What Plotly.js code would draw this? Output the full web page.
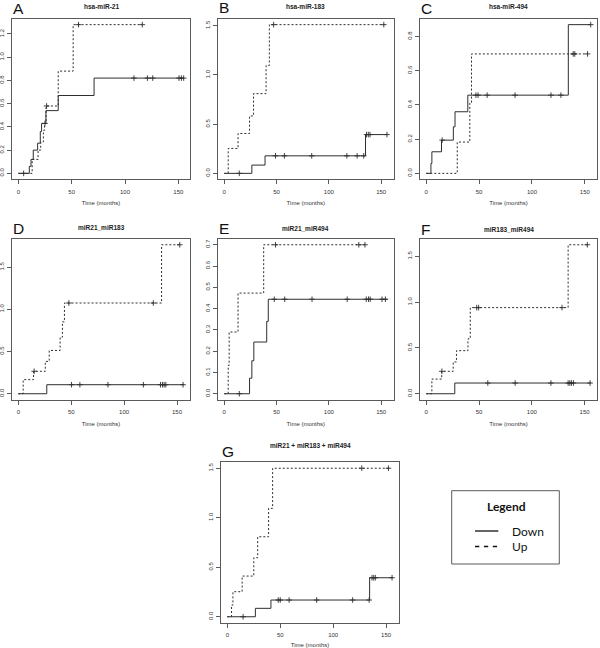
<!DOCTYPE html>
<html><head><meta charset="utf-8">
<script src="https://cdn.plot.ly/plotly-3.0.1.min.js"></script>
<style>html,body{margin:0;padding:0;background:#fff}#chart{width:600px;height:648px}</style>
</head><body><div id="chart"></div>
<script>
// ---------- DATA ----------
const panelLetters = ['A','B','C','D','E','F','G'];
const panelTitles = ['hsa-miR-21','hsa-miR-183','hsa-miR-494','miR21_miR183','miR21_miR494','miR183_miR494','miR21 + miR183 + miR494'];
const xTickVals = [0, 50, 100, 150];
const xAxisTitle = 'Time (months)';
const legendTitle = 'Legend';
const seriesNames = ['Down', 'Up'];

// A: hsa-miR-21
const A_down_t = [0, 10.3, 11.9, 14.0, 18.1, 20.6, 21.8, 25.9, 37.4, 71];
const A_down_v = [0, 0.06, 0.12, 0.20, 0.26, 0.36, 0.43, 0.54, 0.67, 0.82];
const A_down_end = 155;
const A_down_cens = [5, 108.4, 121, 126, 150.6, 152.8, 155];
const A_up_t = [0, 13.0, 18.5, 21.0, 23.5, 24.6, 26.0, 37.4, 51.4];
const A_up_v = [0, 0.12, 0.20, 0.27, 0.37, 0.43, 0.58, 0.88, 1.28];
const A_up_end = 116.2;
const A_up_cens = [25, 26.5, 56.4, 116.2];

// B: hsa-miR-183
const B_down_t = [0, 26.4, 39, 135];
const B_down_v = [0, 0.084, 0.178, 0.394];
const B_down_end = 156;
const B_down_cens = [14.4, 49, 57.5, 83.6, 117.2, 127, 133.3, 136, 137.7, 139.3, 155.5];
const B_up_t = [0, 3.8, 13.2, 24.2, 28, 40, 43.1];
const B_up_v = [0, 0.253, 0.405, 0.583, 0.81, 1.096, 1.511];
const B_up_end = 153;
const B_up_cens = [47.2, 152.5];

// C: hsa-miR-494
const C_down_t = [0, 4.4, 5.3, 14.4, 25.6, 27.2, 39.3, 134.4];
const C_down_v = [0, 0.058, 0.126, 0.194, 0.272, 0.36, 0.457, 0.869];
const C_down_end = 155.6;
const C_down_cens = [15, 47, 49, 57.6, 84, 118, 127.4, 155.6];
const C_up_t = [0, 29.3, 41.2, 42.8];
const C_up_v = [0, 0.183, 0.41, 0.698];
const C_up_end = 153;
const C_up_cens = [139, 140.5, 152.6];

// D: miR21_miR183
const D_down_t = [0, 26.9];
const D_down_v = [0, 0.107];
const D_down_end = 156.3;
const D_down_cens = [50.3, 58.2, 84.7, 118.2, 134.4, 136.3, 137.8, 139.4, 155.7];
const D_up_t = [0, 4.6, 14.4, 25.5, 29.2, 39.5, 41.7, 43.6, 135.4];
const D_up_v = [0, 0.167, 0.266, 0.383, 0.513, 0.67, 0.852, 1.075, 1.765];
const D_up_end = 152.6;
const D_up_cens = [15, 47.8, 127.6, 152.6];

// E: miR21_miR494
const E_down_t = [0, 24.2, 26.4, 28.3, 40.6, 42.1];
const E_down_v = [0, 0.073, 0.155, 0.243, 0.34, 0.444];
const E_down_end = 156;
const E_down_cens = [14.4, 47.8, 57.8, 83.9, 117.5, 135.7, 137.9, 139.5, 150.8, 154];
const E_up_t = [0, 3.8, 4.7, 13.2, 37.7];
const E_up_v = [0, 0.133, 0.29, 0.473, 0.70];
const E_up_end = 134.5;
const E_up_cens = [49, 128.6, 134.5];

// F: miR183_miR494
const F_down_t = [0, 27];
const F_down_v = [0, 0.117];
const F_down_end = 155.8;
const F_down_cens = [58.3, 84.2, 118.1, 134.4, 136, 137.5, 139.4, 155.2];
const F_up_t = [0, 5.3, 14.6, 25.5, 28.6, 39.5, 41.7, 134.4];
const F_up_v = [0, 0.16, 0.245, 0.347, 0.47, 0.6, 0.94, 1.626];
const F_up_end = 152.6;
const F_up_cens = [14.8, 47.8, 49.6, 128.6, 152.6];

// G: miR21 + miR183 + miR494
const G_down_t = [0, 26.5, 41.2, 134.4];
const G_down_v = [0, 0.085, 0.169, 0.394];
const G_down_end = 156.2;
const G_down_cens = [14.9, 48.1, 50, 58.4, 84.4, 118.4, 134, 136.7, 138.3, 139.8, 155.6];
const G_up_t = [0, 4, 5.3, 14, 25, 28.7, 39, 42.8];
const G_up_v = [0, 0.118, 0.253, 0.411, 0.596, 0.808, 1.095, 1.5];
const G_up_end = 152.5;
const G_up_cens = [127, 152.2];

const yTickSteps = [0.2, 0.5, 0.2, 0.5, 0.1, 0.5, 0.5];

// ---------- LAYOUT (pixel frames of the panels) ----------
const W = 600, H = 648;
const frames = [
  [11.7, 190.3, 18.7, 179.3],
  [217.7, 394.0, 18.7, 179.3],
  [419.7, 597.3, 18.7, 179.3],
  [11.7, 190.3, 238.8, 399.7],
  [217.7, 394.0, 238.8, 399.7],
  [419.7, 597.3, 238.8, 399.7],
  [220.7, 399.3, 462.3, 622.7]
];
const titleY = [6, 6, 6, 227.5, 228.3, 229, 445];
const letterY = [8, 7.5, 8, 228, 228, 229, 451];

const px = p => p / W;
const py = p => 1 - p / H;

const series = [
  [A_down_t, A_down_v, A_down_end, A_down_cens, A_up_t, A_up_v, A_up_end, A_up_cens],
  [B_down_t, B_down_v, B_down_end, B_down_cens, B_up_t, B_up_v, B_up_end, B_up_cens],
  [C_down_t, C_down_v, C_down_end, C_down_cens, C_up_t, C_up_v, C_up_end, C_up_cens],
  [D_down_t, D_down_v, D_down_end, D_down_cens, D_up_t, D_up_v, D_up_end, D_up_cens],
  [E_down_t, E_down_v, E_down_end, E_down_cens, E_up_t, E_up_v, E_up_end, E_up_cens],
  [F_down_t, F_down_v, F_down_end, F_down_cens, F_up_t, F_up_v, F_up_end, F_up_cens],
  [G_down_t, G_down_v, G_down_end, G_down_cens, G_up_t, G_up_v, G_up_end, G_up_cens]
];

function stepAt(ts, vs, c) {
  let y = 0;
  for (let i = 0; i < ts.length; i++) if (ts[i] <= c) y = vs[i];
  return y;
}

const lineCol = '#2e2e2e';
const frameCol = '#5a5a5a';
const FONT = 'Liberation Sans, Arial, sans-serif';
const traces = [];
const layout = {
  width: W, height: H, autosize: false,
  margin: {l: 0, r: 0, t: 0, b: 0},
  paper_bgcolor: '#fff', plot_bgcolor: '#fff',
  showlegend: false,
  font: {family: FONT, color: '#222'},
  annotations: [], shapes: []
};

series.forEach((s, i) => {
  const [dt, dv, de, dc, ut, uv, ue, uc] = s;
  const n = i === 0 ? '' : String(i + 1);
  const xa = 'x' + n, ya = 'y' + n;
  const styles = [{dash: 'solid'}, {dash: '2px,2px'}];
  [[dt, dv, de, dc], [ut, uv, ue, uc]].forEach((c, k) => {
    const [t, v, e, cs] = c;
    traces.push({
      type: 'scatter', mode: 'lines', xaxis: xa, yaxis: ya,
      name: seriesNames[k],
      x: t.concat([e]), y: v.concat([v[v.length - 1]]),
      line: {shape: 'hv', color: lineCol, width: 1, dash: styles[k].dash},
      hoverinfo: 'skip'
    });
    traces.push({
      type: 'scatter', mode: 'markers', xaxis: xa, yaxis: ya,
      name: seriesNames[k] + ' (censored)',
      x: cs, y: cs.map(c0 => stepAt(t, v, c0)),
      marker: {symbol: 'cross-thin', size: 4, line: {width: 0.9, color: lineCol}, color: lineCol},
      hoverinfo: 'skip'
    });
  });
  const xmax = Math.max(de, ue);
  const ymax = Math.max(...dv, ...uv);
  const f = frames[i];
  const axCommon = {
    showline: true, mirror: true, linecolor: frameCol, linewidth: 1,
    ticks: 'outside', ticklen: 4, tickwidth: 1, tickcolor: frameCol,
    showgrid: false, zeroline: false, fixedrange: true,
    tickfont: {size: 6, family: FONT, color: '#333'}
  };
  layout['xaxis' + n] = Object.assign({}, axCommon, {
    domain: [px(f[0]), px(f[1])], anchor: ya,
    range: [-0.04 * xmax, 1.04 * xmax],
    tickmode: 'array', tickvals: xTickVals,
    ticklabelstandoff: 2,
    title: {text: xAxisTitle, font: {size: 6, family: FONT, color: '#333'}, standoff: 7}
  });
  layout['yaxis' + n] = Object.assign({}, axCommon, {
    domain: [py(f[3]), py(f[2])], anchor: xa,
    range: [-0.04 * ymax, 1.04 * ymax],
    tickmode: 'linear', tick0: 0, dtick: yTickSteps[i], tickformat: '.1f',
    tickangle: -90
  });
  layout.annotations.push({
    xref: 'paper', yref: 'paper', x: px((f[0] + f[1]) / 2), y: py(titleY[i]),
    xanchor: 'center', yanchor: 'middle', showarrow: false,
    text: panelTitles[i], font: {size: 6.5, family: FONT, weight: 'bold', color: '#222'}
  });
  layout.annotations.push({
    xref: 'paper', yref: 'paper', x: px(f[0] - 1), y: py(letterY[i]),
    xanchor: 'left', yanchor: 'middle', showarrow: false,
    text: panelLetters[i], font: {size: 15.5, family: FONT, color: '#111'}
  });
});

// Legend box
const LB = [451.7, 559.3, 490.7, 564];
layout.shapes.push({type: 'rect', xref: 'paper', yref: 'paper',
  x0: px(LB[0]), x1: px(LB[1]), y0: py(LB[3]), y1: py(LB[2]),
  line: {color: frameCol, width: 1}, fillcolor: 'rgba(0,0,0,0)'});
layout.shapes.push({type: 'line', xref: 'paper', yref: 'paper',
  x0: px(475), x1: px(498.3), y0: py(531), y1: py(531),
  line: {color: '#111', width: 1.3}});
layout.shapes.push({type: 'line', xref: 'paper', yref: 'paper',
  x0: px(475), x1: px(498.3), y0: py(546.5), y1: py(546.5),
  line: {color: '#111', width: 1.3, dash: '4.3px,4.6px'}});
layout.annotations.push({xref: 'paper', yref: 'paper', x: px(506.5), y: py(506),
  xanchor: 'center', yanchor: 'middle', showarrow: false, text: legendTitle,
  font: {size: 12, family: 'Lato, Liberation Sans, sans-serif', weight: 'bold', color: '#111'}});
layout.annotations.push({xref: 'paper', yref: 'paper', x: px(509.5), y: py(531),
  xanchor: 'left', yanchor: 'middle', showarrow: false, text: seriesNames[0],
  font: {size: 12, family: 'Lato, Liberation Sans, sans-serif', color: '#111'}});
layout.annotations.push({xref: 'paper', yref: 'paper', x: px(509.5), y: py(546.5),
  xanchor: 'left', yanchor: 'middle', showarrow: false, text: seriesNames[1],
  font: {size: 12, family: 'Lato, Liberation Sans, sans-serif', color: '#111'}});

Plotly.newPlot('chart', traces, layout, {staticPlot: true, displayModeBar: false});
</script>
</body></html>
